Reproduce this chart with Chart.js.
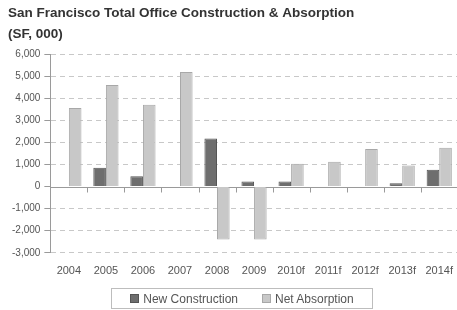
<!DOCTYPE html>
<html>
<head>
<meta charset="utf-8">
<script src="https://cdn.jsdelivr.net/npm/chart.js@4"></script>
<style>
  html, body { margin: 0; padding: 0; background: #fff; overflow: hidden; }
  #wrap { position: relative; width: 457px; height: 310px; overflow: hidden; font-family: "Liberation Sans", Arial, sans-serif; }
  #bieuDo { display: block; }
  #legend {
    position: absolute; left: 111px; top: 288px; width: 260px; height: 19px;
    border: 1px solid #bdbdbd; display: flex; align-items: center; justify-content: center;
    font-size: 12px; color: #555;
  }
  #legend span.box { display: inline-block; width: 9px; height: 9px; margin-right: 4px; box-sizing: border-box; }
  #legend .item { display: flex; align-items: center; margin: 0 12px; }
</style>
</head>
<body>
<div id="wrap">
  <canvas id="bieuDo" width="465" height="310"></canvas>
  <div id="legend">
    <div class="item"><span class="box" style="background:#6e6e6e;border:1px solid #555"></span>New Construction</div>
    <div class="item"><span class="box" style="background:#c8c8c8;border:1px solid #a8a8a8"></span>Net Absorption</div>
  </div>
</div>
<script>
// du lieu doc tu bieu do
const nam = ["2004", "2005", "2006", "2007", "2008", "2009", "2010f", "2011f", "2012f", "2013f", "2014f"];
const xayMoi = [0, 850, 470, 0, 2180, 230, 230, 0, 0, 150, 760];
const hapThu = [3550, 4600, 3700, 5180, -2400, -2400, 1030, 1120, 1700, 950, 1760];
const yMin = -3000;
const yMax = 6000;
const yStep = 1000;

// duong 0 va vach chia tren truc
const duongKhong = {
    id: "duongKhong",
    beforeDatasetsDraw(chart) {
        const { ctx, chartArea, scales } = chart;
        const y0 = Math.round(scales.y.getPixelForValue(0)) + 0.5;
        ctx.save();
        ctx.strokeStyle = "#9a9a9a";
        ctx.lineWidth = 1;
        ctx.beginPath();
        ctx.moveTo(chartArea.left, y0);
        ctx.lineTo(chartArea.right, y0);
        const n = nam.length;
        for (let i = 1; i < n; i++) {
            const x = Math.round((scales.x.getPixelForValue(i - 1) + scales.x.getPixelForValue(i)) / 2) + 0.5;
            ctx.moveTo(x, y0);
            ctx.lineTo(x, y0 + 5);
        }
        ctx.stroke();
        ctx.restore();
    },
};

const ctx = document.getElementById("bieuDo").getContext("2d");

new Chart(ctx, {
    type: "bar",
    data: {
        labels: nam,
        datasets: [
            {
                label: "New Construction",
                data: xayMoi,
                backgroundColor: "#6e6e6e",
                borderColor: "#555555",
                borderWidth: 1,
                categoryPercentage: 0.68,
                barPercentage: 1,
            },
            {
                label: "Net Absorption",
                data: hapThu,
                backgroundColor: "#c8c8c8",
                borderColor: "#a8a8a8",
                borderWidth: 1,
                categoryPercentage: 0.68,
                barPercentage: 1,
            },
        ],
    },
    options: {
        responsive: false,
        animation: false,
        layout: {
            autoPadding: false,
            padding: { left: 8, right: 0, top: 0, bottom: 20 },
        },
        plugins: {
            legend: { display: false },
            tooltip: { enabled: false },
            title: {
                display: true,
                text: "San Francisco Total Office Construction & Absorption",
                align: "start",
                color: "#333",
                font: { family: "'Liberation Sans', Arial, sans-serif", size: 13.5, weight: "bold" },
                padding: { top: 5, bottom: 0 },
            },
            subtitle: {
                display: true,
                text: "(SF, 000)",
                align: "start",
                color: "#333",
                font: { family: "'Liberation Sans', Arial, sans-serif", size: 13.5, weight: "bold" },
                padding: { top: 4.7, bottom: 11.9 },
            },
        },
        scales: {
            x: {
                grid: { display: false, drawTicks: false },
                border: { display: false },
                ticks: {
                    color: "#555",
                    padding: 12,
                    maxRotation: 0,
                    minRotation: 0,
                    font: { family: "'Liberation Sans', Arial, sans-serif", size: 11 },
                },
            },
            y: {
                min: yMin,
                max: yMax,
                grid: {
                    color: (c) => (c.tick && c.tick.value === 0 ? "rgba(0,0,0,0)" : "#c8c8c8"),
                    tickColor: "#9a9a9a",
                    tickLength: 6,
                    tickBorderDash: [],
                },
                border: { display: true, color: "#9a9a9a", dash: [5, 4] },
                ticks: {
                    stepSize: yStep,
                    color: "#555",
                    padding: 4,
                    font: { family: "'Liberation Sans', Arial, sans-serif", size: 10 },
                },
            },
        },
    },
    plugins: [duongKhong],
});
</script>
</body>
</html>
